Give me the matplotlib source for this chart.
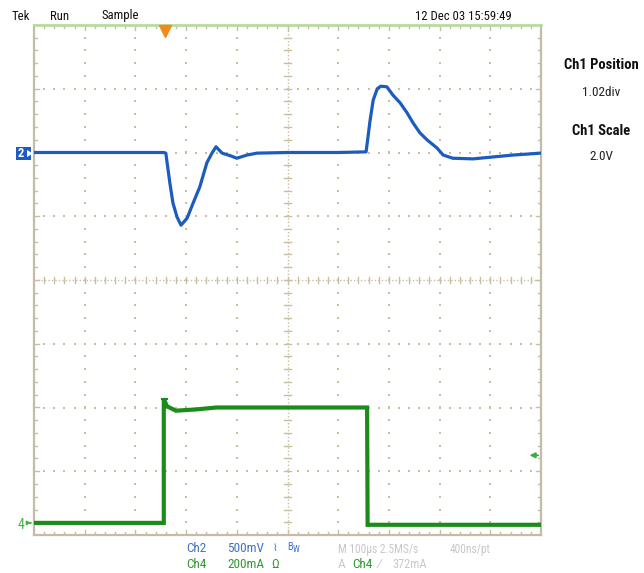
import matplotlib
matplotlib.use('Agg')
import matplotlib.pyplot as plt
import numpy as np
from matplotlib.patches import Rectangle, Polygon
from matplotlib import font_manager as fm

# ---------------- data (time in µs, amplitude in divisions) ----------------
ch2_t = [0, 256, 260, 268, 274, 282, 290, 302, 314, 327, 341, 351, 359, 371,
         387, 400, 420, 440, 500, 600, 655, 663, 669, 677, 684, 696, 708, 722,
         736, 748, 761, 775, 795, 807, 826, 866, 905, 945, 1000]
ch2_v = [2.0, 2.0, 1.99, 1.52, 1.21, 0.99, 0.86, 0.97, 1.21, 1.46, 1.84, 1.99,
         2.09, 1.99, 1.95, 1.91, 1.96, 1.99, 2.0, 2.0, 2.01, 2.51, 2.82, 3.00,
         3.04, 3.03, 2.90, 2.78, 2.62, 2.46, 2.31, 2.20, 2.07, 1.96, 1.91, 1.90,
         1.93, 1.96, 1.99]

ch4_t = [0, 256, 256, 258, 262, 280, 320, 360, 500, 657, 658, 1000]
ch4_v = [-3.81, -3.81, -1.86, -1.90, -1.98, -2.05, -2.03, -2.00, -2.00, -2.00,
         -3.84, -3.84]

trigger_t = 258
trigger_level = -2.75

header = ["Tek", "Run", "Sample"]
date_text = "12 Dec 03 15:59:49"
side_labels = [("Ch1 Position", "1.02div"), ("Ch1 Scale", "2.0V")]

# ---------------- fonts ----------------
names = {f.name for f in fm.fontManager.ttflist}
narrow = None
for cand in ['Liberation Sans Narrow', 'Roboto Condensed', 'DejaVu Sans Condensed',
             'Open Sans Condensed', 'Noto Sans Condensed']:
    if cand in names:
        narrow = cand
        break
FONT = [narrow, 'Liberation Sans', 'DejaVu Sans'] if narrow else ['Liberation Sans', 'DejaVu Sans']
k = 1.0 if narrow else 0.84

# ---------------- figure ----------------
W, H = 644, 573
fig = plt.figure(figsize=(W / 100, H / 100), dpi=100)
fig.patch.set_facecolor('white')
ax = fig.add_axes([34 / W, 38 / H, 507 / W, 510 / H])
ax.set_xlim(0, 1000)
ax.set_ylim(-4, 4)
ax.axis('off')

grid_c = '#c9bf9f'
border_c = '#c4bca6'
blue = '#1c5cc0'
green = '#1a8c1a'
lblue = '#3f73c8'
lgreen = '#2e9a2e'
gray = '#c8c8c8'

# grid dots
for kk in range(1, 10):
    if kk == 5:
        continue
    ys = np.arange(-4 + 0.2, 4, 0.2)
    ax.scatter(np.full_like(ys, kk * 100), ys, s=1.2, marker='s', color=grid_c, lw=0, zorder=1)
for m in range(-3, 4):
    if m == 0:
        continue
    xs = np.arange(20, 1000, 20)
    ax.scatter(xs, np.full_like(xs, m, dtype=float), s=1.2, marker='s', color=grid_c, lw=0, zorder=1)

# center cross lines
ax.plot([0, 1000], [0, 0], color=grid_c, lw=1.0, ls=(0, (1, 1.5)), zorder=1)
ax.plot([500, 500], [-4, 4], color=grid_c, lw=1.0, ls=(0, (1, 1.5)), zorder=1)
for x in np.arange(20, 1000, 20):
    ax.plot([x, x], [-0.05, 0.05], color=grid_c, lw=1.0, zorder=1)
for y in np.arange(-3.8, 4, 0.2):
    ax.plot([494, 506], [y, y], color=grid_c, lw=1.0, zorder=1)

# border ticks
for x in np.arange(20, 1000, 20):
    L = 0.08 if x % 100 == 0 else 0.045
    ax.plot([x, x], [4, 4 - L], color=grid_c, lw=1.0, zorder=1)
    ax.plot([x, x], [-4, -4 + L], color=grid_c, lw=1.0, zorder=1)
for y in np.arange(-3.8, 4, 0.2):
    L = 10 if abs(y - round(y)) < 1e-6 else 6
    ax.plot([0, L], [y, y], color=grid_c, lw=1.0, zorder=1)
    ax.plot([1000, 1000 - L], [y, y], color=grid_c, lw=1.0, zorder=1)

# borders
ax.plot([0, 0], [-4, 4], color=border_c, lw=1.6, zorder=2, clip_on=False)
ax.plot([1000, 1000], [-4, 4], color=border_c, lw=1.6, zorder=2, clip_on=False)
ax.plot([0, 1000], [-4, -4], color=border_c, lw=1.6, zorder=2, clip_on=False)
ax.plot([0, 1000], [4, 4], color='#b9dba0', lw=2.0, zorder=2, clip_on=False)

# traces
ax.plot(ch2_t, ch2_v, color=blue, lw=2.3, zorder=4, solid_joinstyle='round')
ax.plot(ch4_t, ch4_v, color=green, lw=3.0, zorder=3, solid_joinstyle='miter')
ax.plot([252, 262], [-1.86, -1.86], color=green, lw=1.5, zorder=3)

# trigger position marker
ax.plot([trigger_t], [3.90], marker='v', markersize=8, color='#f28a1a', zorder=5, clip_on=False)

# trigger level arrow (right)
ax.annotate('', xy=(972, trigger_level), xytext=(1000, trigger_level),
            arrowprops=dict(arrowstyle='-|>', color='#3aaa3a', lw=1.2, mutation_scale=8),
            zorder=5, annotation_clip=False)


def ftxt(x, y, s, **kw):
    kw.setdefault('family', FONT)
    kw.setdefault('zorder', 10)
    return fig.text(x / W, 1 - y / H, s, **kw)


# header
hs = 9.2 * k
ftxt(12, 16, header[0], fontsize=hs, va='center', color='#111111')
ftxt(50, 16, header[1], fontsize=hs, va='center', color='#111111')
ftxt(101, 16, header[2], fontsize=hs, va='center', color='#111111')
ftxt(415, 16, date_text, fontsize=hs, va='center', color='#111111')

# right panel
ftxt(601, 65, side_labels[0][0], fontsize=10.5 * k, weight='bold', ha='center', va='center', color='#111111')
ftxt(601, 92, side_labels[0][1], fontsize=9.5 * k, ha='center', va='center', color='#222222')
ftxt(601, 131, side_labels[1][0], fontsize=10.5 * k, weight='bold', ha='center', va='center', color='#111111')
ftxt(601, 157, side_labels[1][1], fontsize=9.5 * k, ha='center', va='center', color='#222222')

# channel 2 marker
fig.patches.append(Rectangle((16 / W, 1 - 160 / H), 15 / W, 13 / H, transform=fig.transFigure,
                             facecolor=blue, edgecolor='none', zorder=5))
ftxt(21, 153.5, "2", fontsize=9, weight='bold', ha='center', va='center', color='white')
fig.patches.append(Polygon([(27 / W, 1 - 150 / H), (33 / W, 1 - 153.5 / H), (27 / W, 1 - 157 / H)],
                           closed=True, transform=fig.transFigure, facecolor='white',
                           edgecolor='none', zorder=6))

# channel 4 marker
ftxt(21, 525, "4", fontsize=10, ha='center', va='center', color='#4caf4c')
ax.annotate('', xy=(0, -3.81), xytext=(-12, -3.81),
            arrowprops=dict(arrowstyle='-|>', color='#4caf4c', lw=1.0, mutation_scale=6),
            annotation_clip=False)

# bottom readout
s9 = 9.5 * k
sg = 8.3 * k
ftxt(186, 549, "Ch2", fontsize=s9, va='center', color=lblue)
ftxt(227, 549, "500mV", fontsize=s9, va='center', color=lblue)
ftxt(272, 549, "\u2307", fontsize=7, va='center', color=lblue, family=['DejaVu Sans'])
ftxt(287, 547, "B", fontsize=7.5 * k, va='center', color=lblue)
ftxt(293, 550, "W", fontsize=6.5 * k, va='center', color=lblue)
ftxt(338, 549, "M 100\u00b5s 2.5MS/s", fontsize=sg, va='center', color=gray)
ftxt(450, 549, "400ns/pt", fontsize=sg, va='center', color=gray)

ftxt(186, 564, "Ch4", fontsize=s9, va='center', color=lgreen)
ftxt(227, 564, "200mA", fontsize=s9, va='center', color=lgreen)
ftxt(271, 564, "\u03a9", fontsize=s9, va='center', color=lgreen)
ftxt(338, 564, "A", fontsize=s9, va='center', color=gray)
ftxt(352, 564, "Ch4", fontsize=s9, va='center', color=lgreen)
ftxt(379, 564, "\u2215", fontsize=s9, va='center', color=gray)
ftxt(392, 564, "372mA", fontsize=8.8 * k, va='center', color=gray)

fig.savefig('out.png', dpi=100, facecolor='white')
